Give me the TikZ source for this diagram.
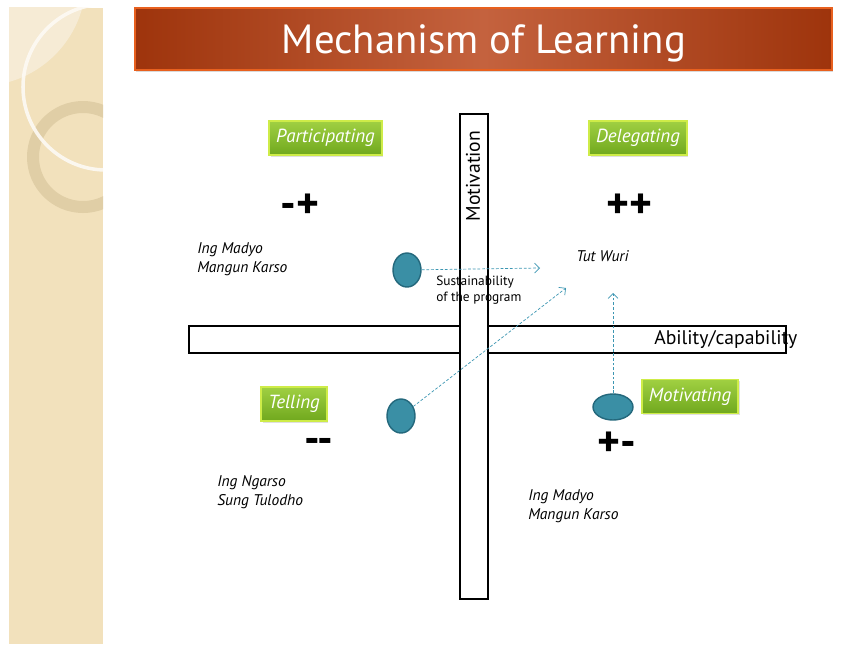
\documentclass[tikz,border=0pt]{standalone}
\usepackage{fontspec}
\setmainfont{PT Sans}
\usetikzlibrary{arrows.meta, positioning, shapes.geometric, shadows}

\definecolor{strip_beige}{RGB}{242,225,188}
\definecolor{strip_light}{RGB}{246,235,213}
\definecolor{ring_col}{RGB}{224,206,166}
\definecolor{title_dark}{RGB}{158,52,12}
\definecolor{title_mid}{RGB}{196,98,62}
\definecolor{title_edge}{RGB}{232,96,30}
\definecolor{mode_top}{RGB}{160,208,66}
\definecolor{mode_bottom}{RGB}{112,168,30}
\definecolor{mode_edge}{RGB}{206,236,72}
\definecolor{dot_fill}{RGB}{58,143,165}
\definecolor{dot_edge}{RGB}{36,104,124}
\definecolor{flow_col}{RGB}{60,150,178}

\begin{document}
\begin{tikzpicture}[x=0.025cm, y=-0.025cm,
    bar_style/.style={draw, line width=1.2pt, fill=white, inner sep=0pt},
    mode_style/.style={draw=mode_edge, line width=1.3pt, top color=mode_top, bottom color=mode_bottom,
        text=white, font=\fontsize{13.5}{15}\selectfont\itshape, inner xsep=5pt, minimum height=0.85cm,
        drop shadow={opacity=0.25, shadow xshift=1pt, shadow yshift=-1.2pt}},
    sign_style/.style={font=\fontsize{31}{33}\selectfont\bfseries},
    name_style/.style={font=\fontsize{11}{13.5}\selectfont\itshape, align=left, anchor=north west, inner sep=0pt},
    axis_label/.style={font=\fontsize{14}{16}\selectfont, inner sep=0pt},
    dot_style/.style={ellipse, draw=dot_edge, fill=dot_fill, line width=1pt, inner sep=0pt},
    flow_style/.style={-{Straight Barb[length=3.5pt, width=7pt]}, flow_col, line width=0.5pt, dash pattern=on 2pt off 1.3pt}
]
\useasboundingbox (0,0) rectangle (846,644);

% Left decoration strip
\begin{scope}
    \clip (9,8) rectangle (103,644);
    \fill[strip_beige] (9,8) rectangle (103,644);
    \fill[strip_light] (-20,-20) circle (106);
    \fill[ring_col, even odd rule] (83,157) circle (56) (83,157) circle (44);
    \draw[white!85!strip_beige, line width=2.5pt, opacity=0.9] (106,87) circle (83);
\end{scope}

% Title bar
\node[draw=title_edge, line width=1pt, left color=title_dark, right color=title_dark, middle color=title_mid,
    minimum width=17.42cm, minimum height=1.55cm,
    drop shadow={opacity=0.3, shadow xshift=1pt, shadow yshift=-1.5pt}] (title_bar) at (483.5,39) {};
\node[text=white, font=\fontsize{29}{32}\selectfont] (title) at (484,43) {Mechanism of Learning};

% Axes
\node[bar_style, minimum width=14.925cm, minimum height=0.675cm] (hbar) at (487.5,339.5) {};
\node[bar_style, minimum width=0.7cm, minimum height=12.125cm] (vbar) at (474,356.5) {};
\node[axis_label, anchor=west] (ability) at (654,340) {Ability/capability};
\node[axis_label, rotate=90] (motiv) at (473,176) {Motivation};

% Quadrant labels
\node[mode_style] (participating) at (325.5,138) {Participating};
\node[mode_style] (delegating) at (638,138) {Delegating};
\node[mode_style] (telling) at (294,404) {Telling};
\node[mode_style] (motivating) at (690,396.5) {Motivating};

\node[sign_style] (sign_mp) at (300,206) {-+};
\node[sign_style] (sign_pp) at (629,206) {++};
\node[sign_style] (sign_mm) at (319,446) {-{}-};
\node[sign_style] (sign_pm) at (617,444) {+-};

% Leadership phrases
\node[name_style] (name_tl) at (197,242) {Ing Madyo\\Mangun Karso};
\node[name_style, anchor=west] (name_tr) at (576,256) {Tut Wuri};
\node[name_style] (name_bl) at (217,475) {Ing Ngarso\\Sung Tulodho};
\node[name_style] (name_br) at (528,489) {Ing Madyo\\Mangun Karso};
\node[name_style, font=\fontsize{9.5}{11.4}\selectfont] (sustain) at (436,276) {Sustainability\\of the program};

% Movements between quadrants
\node[dot_style, minimum width=0.7cm, minimum height=0.85cm] (dot_a) at (407,270) {};
\node[dot_style, minimum width=0.7cm, minimum height=0.85cm] (dot_b) at (401,416) {};
\node[dot_style, minimum width=1.0cm, minimum height=0.65cm] (dot_c) at (613,407) {};
\coordinate (tip_a) at (540,268);
\coordinate (tip_b) at (566,288);
\coordinate (tip_c) at (613,293);
\draw[flow_style] (dot_a) -- (tip_a);
\draw[flow_style] (dot_b) -- (tip_b);
\draw[flow_style] (dot_c) -- (tip_c);

\end{tikzpicture}
\end{document}
